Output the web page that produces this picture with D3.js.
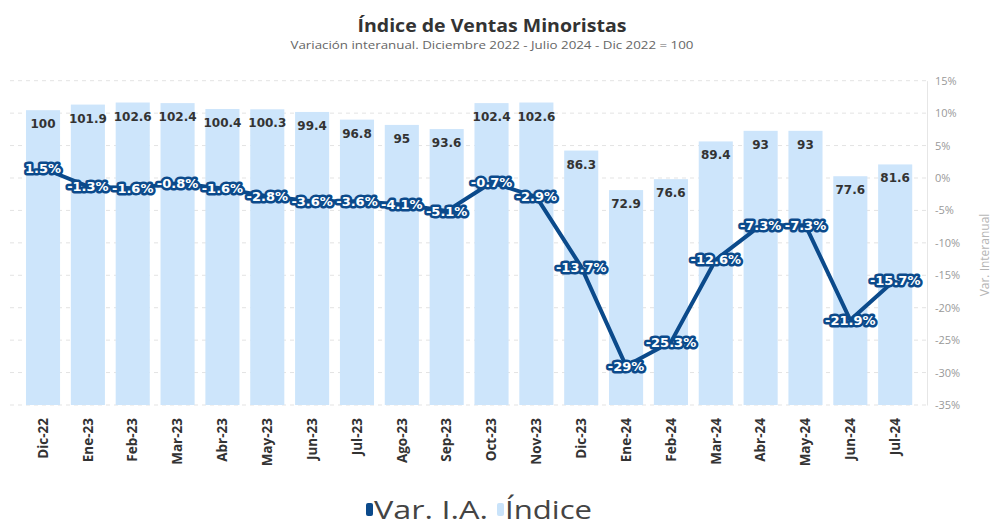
<!DOCTYPE html>
<html>
<head>
<meta charset="utf-8">
<script src="https://cdn.jsdelivr.net/npm/d3@7"></script>
<style>
  body { margin: 0; background: #fff; }
  svg { display: block; font-family: "Open Sans", sans-serif; }
  .grid line { stroke: #e3e3e3; stroke-dasharray: 4 4; }
  .pct { font-family: "DejaVu Sans", sans-serif; font-weight: bold; font-size: 13px; fill: #fff;
         stroke: #0b4a8b; stroke-width: 5px; paint-order: stroke; stroke-linejoin: round; }
  .idx { font-family: "DejaVu Sans", sans-serif; font-weight: bold; font-size: 12px; fill: #333; }
</style>
</head>
<body>
<div id="chart"></div>
<script>
// Chart Data
const months = ["Dic-22", "Ene-23", "Feb-23", "Mar-23", "Abr-23", "May-23", "Jun-23", "Jul-23", "Ago-23", "Sep-23",
                "Oct-23", "Nov-23", "Dic-23", "Ene-24", "Feb-24", "Mar-24", "Abr-24", "May-24", "Jun-24", "Jul-24"];
const indice = [100, 101.9, 102.6, 102.4, 100.4, 100.3, 99.4, 96.8, 95, 93.6,
                102.4, 102.6, 86.3, 72.9, 76.6, 89.4, 93, 93, 77.6, 81.6];
const varIA = [1.5, -1.3, -1.6, -0.8, -1.6, -2.8, -3.6, -3.6, -4.1, -5.1,
               -0.7, -2.9, -13.7, -29, -25.3, -12.6, -7.3, -7.3, -21.9, -15.7];
const pctTicks = [15, 10, 5, 0, -5, -10, -15, -20, -25, -30, -35];

// Dimensions
let w = 998, h = 525;
let plotTop = 80.7, plotBottom = 405, plotLeft = 20.6, plotRight = 917.6, axisX = 927;

let svg = d3.select("#chart").append("svg").attr("width", w).attr("height", h);

// Scales
let x = d3.scaleBand().domain(months).range([plotLeft, plotRight]).paddingInner(0.24).paddingOuter(0.12);
let yIdx = d3.scaleLinear().domain([0, 110]).range([plotBottom, plotTop]);
let yPct = d3.scaleLinear().domain([-35, 15]).range([plotBottom, plotTop]);

// Title (source image is stretched horizontally, so widths are fitted)
svg.append("text").attr("x", 492).attr("y", 32).attr("text-anchor", "middle")
  .attr("textLength", 269).attr("lengthAdjust", "spacingAndGlyphs")
  .style("font-size", "18px").style("font-weight", "bold").style("fill", "#333")
  .text("Índice de Ventas Minoristas");
svg.append("text").attr("x", 492).attr("y", 49).attr("text-anchor", "middle")
  .attr("textLength", 403).attr("lengthAdjust", "spacingAndGlyphs")
  .style("font-size", "11.5px").style("fill", "#666")
  .text("Variación interanual. Diciembre 2022 - Julio 2024 - Dic 2022 = 100");

// Gridlines
svg.append("g").attr("class", "grid").selectAll("line").data(pctTicks).join("line")
  .attr("x1", 10).attr("x2", axisX).attr("y1", d => yPct(d)).attr("y2", d => yPct(d));

// Bars
svg.append("g").selectAll("rect").data(indice).join("rect")
  .attr("x", (d, i) => x(months[i])).attr("width", x.bandwidth())
  .attr("y", d => yIdx(d)).attr("height", d => yIdx(0) - yIdx(d))
  .attr("fill", "#cde5fb");

// Right axis
let yAxis = d3.axisRight(yPct).tickValues(pctTicks).tickSize(0).tickPadding(8).tickFormat(d => d + "%");
let ax = svg.append("g").attr("transform", "translate(" + axisX + ",0)").call(yAxis);
ax.select(".domain").attr("stroke", "#e6e6e6");
ax.selectAll("text").style("font-size", "11px").style("fill", "#999").style("font-family", "Open Sans, sans-serif");
svg.append("text").attr("transform", "translate(989,255) rotate(-90)").attr("text-anchor", "middle")
  .style("font-size", "12px").style("fill", "#b5b5b5").text("Var. Interanual");

// Bottom axis labels
let xAxis = d3.axisBottom(x).tickSize(0).tickPadding(8);
let bx = svg.append("g").attr("transform", "translate(0," + plotBottom + ")").call(xAxis);
bx.select(".domain").remove();
bx.selectAll("text").attr("transform", "rotate(-90)").attr("text-anchor", "end")
  .attr("x", -13).attr("y", 0).attr("dy", "0.35em")
  .style("font-size", "13.5px").style("font-weight", "bold").style("fill", "#333")
  .style("font-family", "Open Sans, sans-serif");

// Index labels
svg.append("g").selectAll("text").data(indice).join("text").attr("class", "idx")
  .attr("x", (d, i) => x(months[i]) + x.bandwidth() / 2).attr("y", d => yIdx(d) + 18)
  .attr("text-anchor", "middle").text(d => d);

// Line
let line = d3.line().x((d, i) => x(months[i]) + x.bandwidth() / 2).y(d => yPct(d));
svg.append("path").datum(varIA).attr("d", line).attr("fill", "none")
  .attr("stroke", "#0b4a8b").attr("stroke-width", 4).attr("stroke-linejoin", "round");

// Percent labels
svg.append("g").selectAll("text").data(varIA).join("text").attr("class", "pct")
  .attr("x", (d, i) => x(months[i]) + x.bandwidth() / 2).attr("y", d => yPct(d))
  .attr("dy", "0.36em").attr("text-anchor", "middle").text(d => d + "%");

// Legend
let legend = [["Var. I.A.", "#0b4a8b", 366, 114], ["Índice", "#c9e3fa", 497, 87]];
legend.forEach(l => {
  svg.append("rect").attr("x", l[2]).attr("y", 503).attr("width", 7).attr("height", 13).attr("rx", 2).attr("fill", l[1]);
  svg.append("text").attr("x", l[2] + 8).attr("y", 519)
    .attr("textLength", l[3]).attr("lengthAdjust", "spacingAndGlyphs")
    .style("font-size", "25px").style("fill", "#444").text(l[0]);
});
</script>
</body>
</html>
